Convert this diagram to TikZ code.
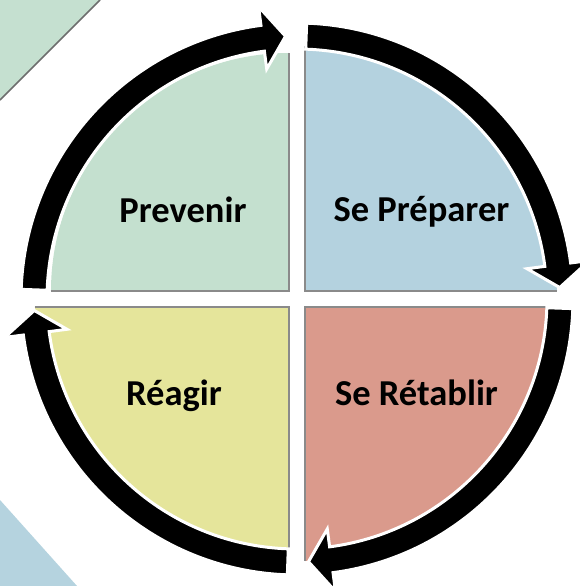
\documentclass[tikz,border=0pt]{standalone}
\usepackage{fontspec}
\setmainfont{Carlito}
\definecolor{qgreen}{HTML}{C4E0CF}
\definecolor{qblue}{HTML}{B4D2DF}
\definecolor{qyellow}{HTML}{E5E59B}
\definecolor{qred}{HTML}{DA9A8C}
\definecolor{bggreen}{HTML}{C5E0D0}
\definecolor{bgblue}{HTML}{B5D3DF}
\definecolor{edgegray}{HTML}{8A8A8A}
\newcommand{\ringarrow}[1]{%
  \begin{scope}[rotate=#1]
    \filldraw[ringarrowstyle] (178:250) arc[start angle=178,end angle=97.5,radius=250]
      -- (97.5:232) -- (92.5:263) -- (97.5:295) -- (97.5:276)
      arc[start angle=97.5,end angle=178,radius=276] -- cycle;
  \end{scope}}
\begin{document}
\begin{tikzpicture}[x=1pt,y=1pt,
  ringarrowstyle/.style={fill=black,draw=white,line width=3,line join=miter},
  quadedge/.style={draw=edgegray,line width=1.6},
  lab/.style={anchor=base,inner sep=0,font=\fontsize{36.5}{40}\selectfont\bfseries}]
\useasboundingbox (-297,-287) rectangle (282,299);
\fill[white] (-297,-287) rectangle (282,299);
% background corner triangles
\fill[bggreen] (-297,299) -- (-197,299) -- (-297,199) -- cycle;
\draw[edgegray!80!black,line width=1.6] (-297,199) -- (-197,299);
\fill[bgblue] (-297,-201) -- (-220,-287) -- (-297,-287) -- cycle;
% quadrants
\fill[qgreen] (-8,8) -- (-246,8) arc[start angle=180,end angle=90,x radius=238,y radius=238] -- cycle;
\draw[quadedge] (-246,8) -- (-8,8) -- (-8,246);
\fill[qblue] (8,8) -- (8,253) arc[start angle=90,end angle=0,x radius=252,y radius=245] -- cycle;
\draw[quadedge] (8,253) -- (8,8) -- (260,8);
\fill[qyellow] (-8,-8) -- (-262,-8) arc[start angle=180,end angle=270,x radius=254,y radius=242] -- cycle;
\draw[quadedge] (-262,-8) -- (-8,-8) -- (-8,-250);
\fill[qred] (8,-8) -- (250,-8) arc[start angle=0,end angle=-90,x radius=242,y radius=254] -- cycle;
\draw[quadedge] (250,-8) -- (8,-8) -- (8,-262);
% cycle arrows
\ringarrow{0}
\ringarrow{-90}
\ringarrow{-180}
\ringarrow{-270}
% labels
\node[lab] (prevenir) at (-114,76) {Prevenir};
\node[lab] (preparer) at (124.5,77) {Se Préparer};
\node[lab] (reagir) at (-123,-106) {Réagir};
\node[lab] (retablir) at (119.5,-106) {Se Rétablir};
\end{tikzpicture}
\end{document}
